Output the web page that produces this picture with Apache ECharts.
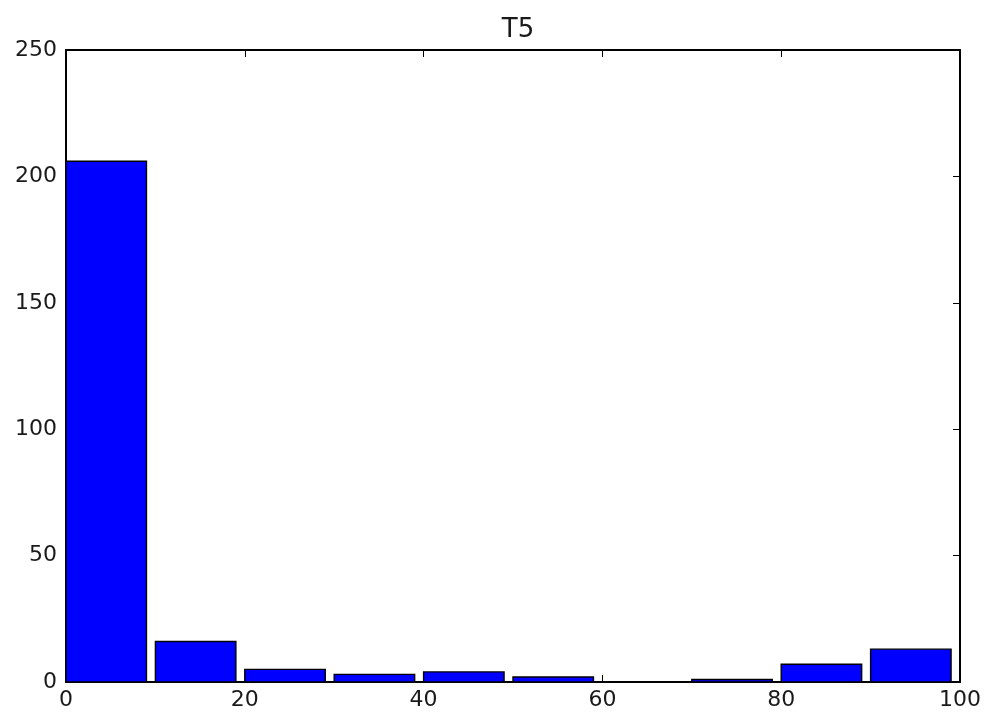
<!DOCTYPE html>
<html>
<head>
<meta charset="utf-8">
<script src="https://cdn.jsdelivr.net/npm/echarts@6/dist/echarts.min.js"></script>
<style>
html,body{margin:0;padding:0;background:#fff;}
#chart{width:984px;height:713px;}
</style>
</head>
<body>
<div id="chart"></div>
<script>
const titleText = "T5";
const binStarts = [0, 10, 20, 30, 40, 50, 60, 70, 80, 90];
const counts = [206, 16, 5, 3, 4, 2, 0, 1, 7, 13];
const xTicks = [0, 20, 40, 60, 80, 100];
const yTicks = [0, 50, 100, 150, 200, 250];

const binWidth = 10;
const barFrac = 0.9;
const FONT = "DejaVu Sans";
const TXT = '#1a1a1a';

const chart = echarts.init(document.getElementById('chart'), null, {renderer: 'canvas'});

const data = binStarts.map((s, i) => [s, counts[i]]);

function axisCommon(min, max, interval, showLabel, margin) {
  return {
    type: 'value',
    min: min, max: max, interval: interval,
    splitLine: {show: false},
    axisLine: {show: true, onZero: false, lineStyle: {color: '#000', width: 2}},
    axisTick: {show: true, inside: true, length: 7, lineStyle: {color: '#000', width: 1}},
    axisLabel: {show: showLabel, color: TXT, fontFamily: FONT, fontSize: 22, margin: margin || 8}
  };
}

const option = {
  backgroundColor: '#fff',
  animation: false,
  title: {
    text: titleText,
    left: 513, top: 12,
    textAlign: 'center',
    textStyle: {fontFamily: FONT, fontSize: 26, fontWeight: 'normal', color: TXT}
  },
  grid: {left: 66, right: 24, top: 50, bottom: 31, containLabel: false},
  xAxis: [
    Object.assign(axisCommon(xTicks[0], xTicks[xTicks.length-1], xTicks[1]-xTicks[0], true, 7), {position: 'bottom'}),
    Object.assign(axisCommon(xTicks[0], xTicks[xTicks.length-1], xTicks[1]-xTicks[0], false), {position: 'top'})
  ],
  yAxis: [
    Object.assign(axisCommon(yTicks[0], yTicks[yTicks.length-1], yTicks[1]-yTicks[0], true, 9), {position: 'left'}),
    Object.assign(axisCommon(yTicks[0], yTicks[yTicks.length-1], yTicks[1]-yTicks[0], false), {position: 'right'})
  ],
  series: [{
    type: 'custom',
    xAxisIndex: 0, yAxisIndex: 0,
    data: data,
    encode: {x: 0, y: 1},
    renderItem: function (params, api) {
      const x0 = api.value(0);
      const y = api.value(1);
      if (!(y > 0)) return null;
      const p0 = api.coord([x0, y]);
      const p1 = api.coord([x0 + binWidth * barFrac, 0]);
      return {
        type: 'rect',
        shape: {x: p0[0], y: p0[1], width: p1[0] - p0[0], height: p1[1] - p0[1]},
        style: {fill: '#0000ff', stroke: '#000', lineWidth: 1.4}
      };
    },
    z: 1
  }]
};
chart.setOption(option);
</script>
</body>
</html>
